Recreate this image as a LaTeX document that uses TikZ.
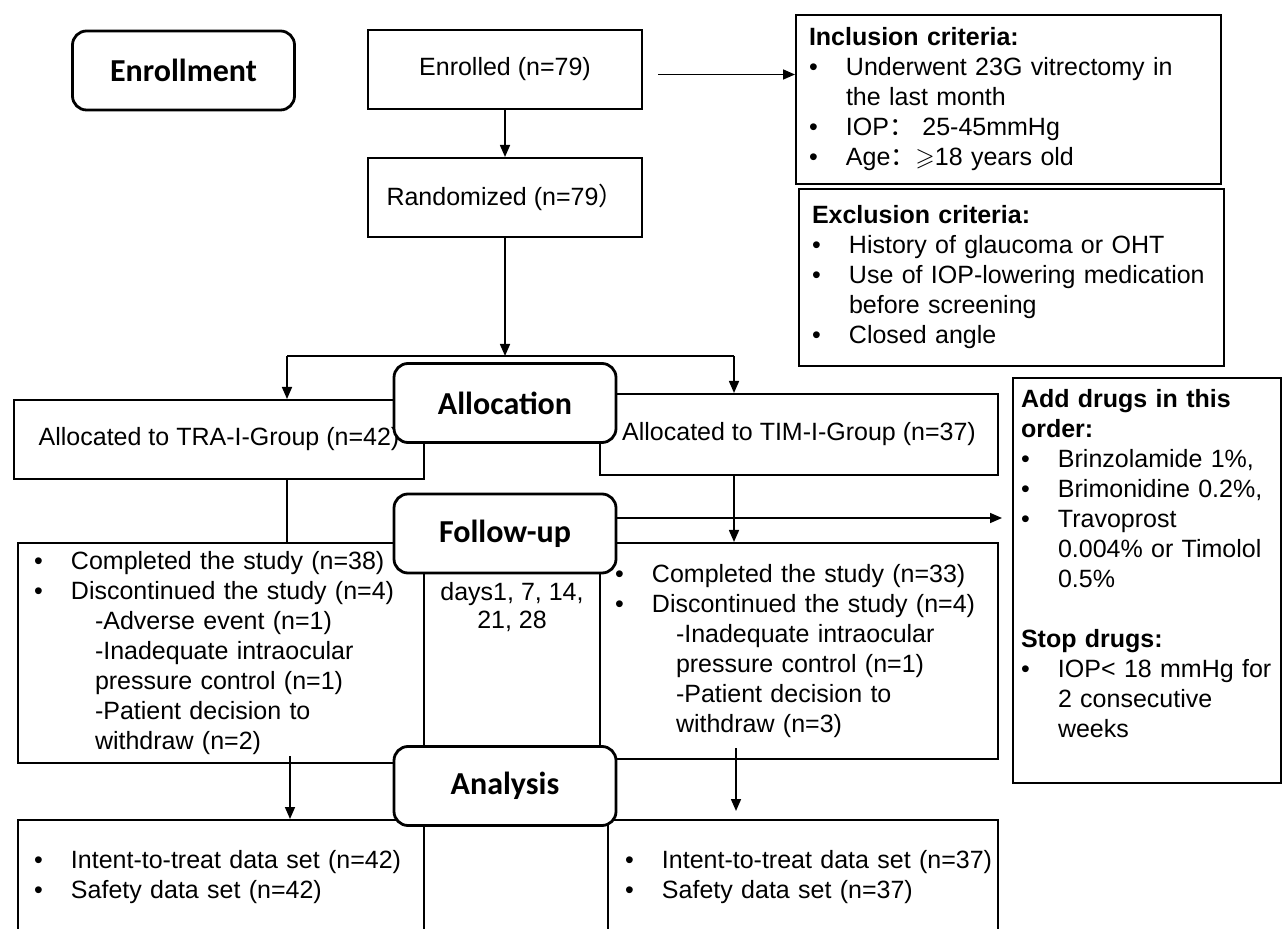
\documentclass[tikz,border=0pt]{standalone}
\usepackage{amssymb}
\usepackage{fontspec}
\setmainfont{Liberation Sans}
\newfontfamily\stagefont{Carlito}
\newfontfamily\cjk{Noto Sans CJK SC}
\usetikzlibrary{arrows.meta,positioning}

\newcommand{\bul}{\makebox[18.5pt][l]{\textbullet}}
\newcommand{\bulind}{\hspace*{18.5pt}}
\newcommand{\subind}{\hspace*{30.5pt}}

\begin{document}
\begin{tikzpicture}[x=0.5pt,y=-0.5pt,
  box/.style={draw,line width=1pt,fill=white,inner sep=0pt,
    font=\fontsize{12.5pt}{15pt}\selectfont},
  listbox/.style={box,align=left,inner xsep=6.5pt},
  stage/.style={draw,line width=1.4pt,rounded corners=7pt,fill=white,
    minimum width=111pt,minimum height=39.5pt,inner sep=0pt,
    font=\stagefont\bfseries\fontsize{16pt}{19pt}\selectfont},
  arr/.style={line width=0.8pt,-{Triangle[length=6pt,width=5pt]}},
  link/.style={line width=0.8pt}]

% page size of the reference
\clip (0,0) rectangle (1283,929);

% Enrollment part
\node[box,minimum width=137pt,minimum height=39.5pt] (enrolled) at (505,69.5) {Enrolled (n=79)};
\node[box,minimum width=137pt,minimum height=39.5pt,below=23.5pt of enrolled] (random) {Randomized (n=79{\cjk ）}};

\node[listbox,minimum width=212.5pt,text width=199.5pt,minimum height=84.5pt] (incl) at (1008.5,99.5) {%
\textbf{Inclusion criteria:}\\
\bul Underwent 23G vitrectomy in\\
\bulind the last month\\
\bul IOP{\cjk ：} 25-45mmHg\\
\bul Age{\cjk ：}$\geqslant$18 years old};

\node[listbox,minimum width=212.5pt,text width=199.5pt,minimum height=88.5pt] (excl) at (1011.5,277.5) {%
\textbf{Exclusion criteria:}\\
\bul History of glaucoma or OHT\\
\bul Use of IOP-lowering medication\\
\bulind before screening\\
\bul Closed angle};

% Allocation part
\node[box,minimum width=205pt,minimum height=39.5pt] (tra) at (219,439.5) {Allocated to TRA-I-Group (n=42)};
\node[box,minimum width=199pt,minimum height=40.5pt] (tim) at (799,434.5) {Allocated to TIM-I-Group (n=37)};

% Follow-up part
\node[listbox,inner xsep=8pt,minimum width=203pt,text width=187pt,minimum height=110pt] (lcomp) at (221,653) {%
\bul Completed the study (n=38)\\
\bul Discontinued the study (n=4)\\
\subind-Adverse event (n=1)\\
\subind-Inadequate intraocular\\
\subind pressure control (n=1)\\
\subind-Patient decision to\\
\subind withdraw (n=2)};

\node[listbox,inner xsep=7.5pt,minimum width=199pt,text width=184pt,minimum height=108pt] (rcomp) at (799,651) {%
\bul Completed the study (n=33)\\
\bul Discontinued the study (n=4)\\
\subind-Inadequate intraocular\\
\subind pressure control (n=1)\\
\subind-Patient decision to\\
\subind withdraw (n=3)};

\node[align=center,font=\fontsize{12.5pt}{14pt}\selectfont] (days) at (512,607) {days1, 7, 14,\\21, 28};

\node[listbox,inner xsep=4pt,minimum width=134pt,text width=126pt,minimum height=202.5pt] (drugs) at (1147,580.5) {%
\textbf{Add drugs in this}\\
\textbf{order:}\\
\bul Brinzolamide 1\%,\\
\bul Brimonidine 0.2\%,\\
\bul Travoprost\\
\bulind 0.004\% or Timolol\\
\bulind 0.5\%\\[15pt]
\textbf{Stop drugs:}\\
\bul IOP< 18 mmHg for\\
\bulind 2 consecutive\\
\bulind weeks\\[2pt]
\mbox{}};

% Analysis part
\node[listbox,inner xsep=8pt,minimum width=203pt,text width=187pt,minimum height=57pt] (lana) at (221,877) {%
\bul Intent-to-treat data set (n=42)\\
\bul Safety data set (n=42)};
\node[listbox,inner xsep=8.5pt,minimum width=195pt,text width=178pt,minimum height=57pt] (rana) at (803,877) {%
\bul\mbox{Intent-to-treat data set (n=37)}\\
\bul Safety data set (n=37)};

% Stage labels on top
\node[stage] (enrol) at (183.5,70.5) {Enrollment};
\node[stage] (alloc) at (505,403) {Allocation};
\node[stage] (follow) at (505,533.5) {Follow-up};
\node[stage] (analysis) at (505,786) {Analysis};

% Connectors
\coordinate (split) at (505,356);
\coordinate (lt) at (287,356);
\coordinate (rt) at (734,356);
\draw[arr] (enrolled) -- (random);
\draw[arr,shorten <=7.5pt] ([yshift=-2.5pt]enrolled.east) -- ([yshift=-2.5pt]enrolled.east -| incl.west);
\draw[arr] (random) -- (split);
\draw[link] (lt) -- (rt);
\draw[arr] (lt) -- (lt |- tra.north);
\draw[arr] (rt) -- (rt |- tim.north);
\draw[link] (lt |- tra.south) -- (lt |- lcomp.north);
\draw[arr] (rt |- tim.south) -- (rt |- rcomp.north);
\draw[arr,shorten >=5pt] ([yshift=7.75pt]follow.east) -- ([yshift=7.75pt]follow.east -| drugs.west);
\draw[arr,shorten <=-4pt] ([xshift=1.5pt]lt |- lcomp.south) -- ([xshift=1.5pt]lt |- lana.north);
\draw[arr,shorten <=-6pt,shorten >=4pt] ([xshift=1pt]rt |- rcomp.south) -- ([xshift=1pt]rt |- rana.north);
\end{tikzpicture}
\end{document}
